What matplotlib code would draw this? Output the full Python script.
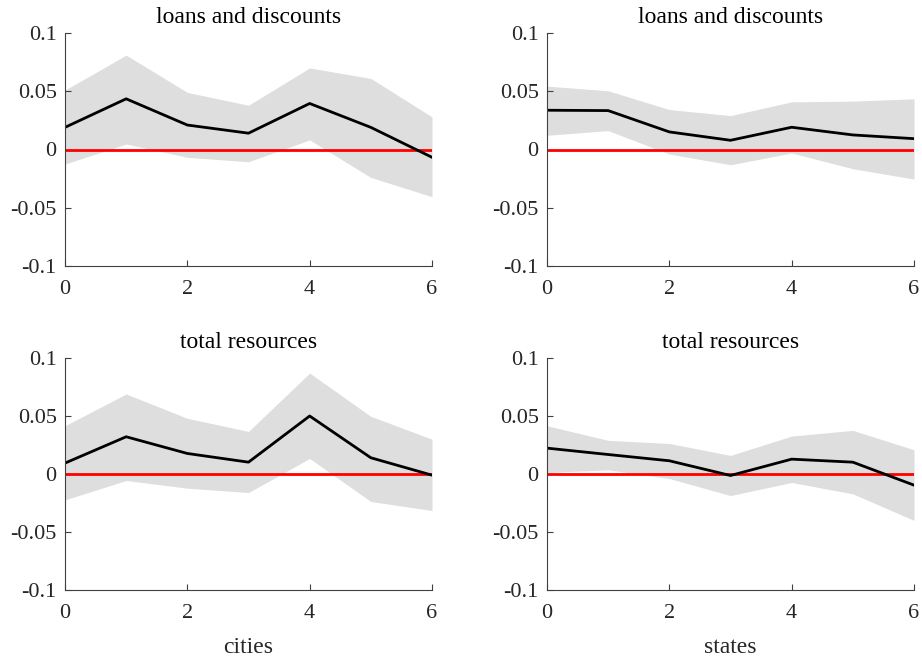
import matplotlib
matplotlib.use("Agg")
import matplotlib.pyplot as plt

plt.rcParams['font.family'] = ['Liberation Serif', 'DejaVu Serif']
plt.rcParams['axes.unicode_minus'] = False

horizon = [0, 1, 2, 3, 4, 5, 6]

# cities, loans and discounts
cities_loans = [0.019, 0.0435, 0.021, 0.014, 0.0395, 0.019, -0.0067]
cities_loans_hi = [0.051, 0.081, 0.049, 0.038, 0.070, 0.061, 0.028]
cities_loans_lo = [-0.0125, 0.0047, -0.0067, -0.0105, 0.0082, -0.024, -0.0405]

# states, loans and discounts
states_loans = [0.0337, 0.0334, 0.0151, 0.0079, 0.0191, 0.0125, 0.0093]
states_loans_hi = [0.0544, 0.0504, 0.0343, 0.0291, 0.0409, 0.0415, 0.0435]
states_loans_lo = [0.0122, 0.0162, -0.0039, -0.0131, -0.003, -0.0165, -0.0254]

# cities, total resources
cities_res = [0.0094, 0.0321, 0.0177, 0.0102, 0.050, 0.014, -0.001]
cities_res_hi = [0.0416, 0.069, 0.048, 0.0367, 0.087, 0.0497, 0.030]
cities_res_lo = [-0.0223, -0.0056, -0.0122, -0.016, 0.0134, -0.0237, -0.0315]

# states, total resources
states_res = [0.0223, 0.0168, 0.0114, -0.0013, 0.0128, 0.0102, -0.0096]
states_res_hi = [0.0416, 0.029, 0.0263, 0.016, 0.0327, 0.0376, 0.0209]
states_res_lo = [0.0013, 0.0036, -0.0039, -0.0186, -0.0073, -0.0171, -0.040]

ytick_vals = [-0.1, -0.05, 0, 0.05, 0.1]
ytick_labels = ['-0.1', '-0.05', '0', '0.05', '0.1']
xtick_vals = [0, 2, 4, 6]

panels = [
    ('loans and discounts', None, cities_loans, cities_loans_lo, cities_loans_hi, [65, 33, 432, 266]),
    ('loans and discounts', None, states_loans, states_loans_lo, states_loans_hi, [547, 33, 914, 266]),
    ('total resources', 'cities', cities_res, cities_res_lo, cities_res_hi, [65, 358, 432, 590]),
    ('total resources', 'states', states_res, states_res_lo, states_res_hi, [547, 358, 914, 590]),
]

W, H = 922, 657
fig = plt.figure(figsize=(W / 100, H / 100), dpi=100)
axis_color = '#404040'

for title, xlabel, mid, lo, hi, box in panels:
    x0, y0, x1, y1 = box
    ax = fig.add_axes([x0 / W, 1 - y1 / H, (x1 - x0) / W, (y1 - y0) / H])
    ax.fill_between(horizon, lo, hi, color='#dedede', lw=0)
    ax.axhline(0, color='#ff0000', lw=2.0)
    ax.plot(horizon, mid, color='black', lw=2.0)
    ax.set_xlim(0, 6)
    ax.set_ylim(-0.1, 0.1)
    ax.set_xticks(xtick_vals)
    ax.set_yticks(ytick_vals)
    ax.set_yticklabels(ytick_labels)
    ax.spines['top'].set_visible(False)
    ax.spines['right'].set_visible(False)
    for s in ('left', 'bottom'):
        ax.spines[s].set_color(axis_color)
        ax.spines[s].set_linewidth(0.8)
    ax.tick_params(direction='in', length=4, width=0.8, color=axis_color,
                   labelcolor='#262626', labelsize=16)
    ax.tick_params(axis='x', pad=10)
    ax.tick_params(axis='y', pad=6)
    ax.set_title(title, fontsize=17, pad=7, color='black')
    if xlabel:
        ax.set_xlabel(xlabel, fontsize=17, labelpad=10, color='#262626')

fig.savefig('out.png', dpi=100)
